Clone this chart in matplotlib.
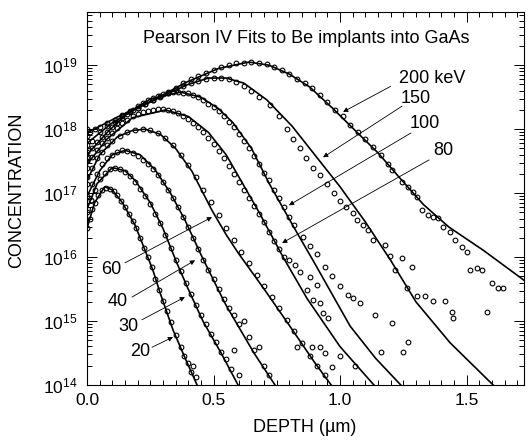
import numpy as np
import matplotlib
matplotlib.use("Agg")
import matplotlib.pyplot as plt
from matplotlib.ticker import LogLocator, MultipleLocator, LogFormatterMathtext, NullFormatter

plt.rcParams["font.family"] = ["Liberation Sans", "DejaVu Sans"]
plt.rcParams["mathtext.fontset"] = "custom"
plt.rcParams["mathtext.rm"] = "Liberation Sans"

# (depth um, log10 concentration)
fit200 = [(0.0, 17.94), (0.12, 18.19), (0.26, 18.45), (0.39, 18.73), (0.52, 18.95), (0.64, 19.05),
          (0.72, 19.0), (0.80, 18.86), (0.88, 18.66), (0.97, 18.33), (1.07, 17.94), (1.15, 17.63),
          (1.24, 17.22), (1.33, 16.82), (1.43, 16.47), (1.565, 16.11), (1.74, 15.6)]
fit150 = [(0.0, 17.78), (0.1, 18.1), (0.2, 18.33), (0.3, 18.52), (0.4, 18.7), (0.48, 18.8), (0.55, 18.8),
          (0.62, 18.72), (0.71, 18.46), (0.81, 18.05), (0.91, 17.55), (1.0, 17.1), (1.1, 16.55),
          (1.2, 15.95), (1.3, 15.3), (1.435, 14.66), (1.52, 14.33), (1.605, 14.0)]
fit100 = [(0.0, 17.6), (0.08, 17.95), (0.16, 18.25), (0.25, 18.47), (0.37, 18.58), (0.45, 18.5),
          (0.52, 18.32), (0.577, 18.1), (0.65, 17.7), (0.72, 17.15), (0.83, 16.38), (0.893, 15.95),
          (1.0, 15.2), (1.04, 14.92), (1.14, 14.42), (1.24, 14.0)]
fit80 = [(0.0, 17.45), (0.08, 17.85), (0.18, 18.18), (0.31, 18.3), (0.40, 18.2), (0.48, 17.95),
         (0.55, 17.6), (0.605, 17.22), (0.68, 16.7), (0.775, 16.0), (0.87, 15.35), (1.0, 14.6), (1.134, 14.0)]
fit60 = [(0.0, 17.2), (0.05, 17.6), (0.12, 17.88), (0.18, 17.98), (0.23, 18.0), (0.29, 17.92), (0.35, 17.7),
         (0.415, 17.34), (0.455, 17.03), (0.494, 16.73), (0.55, 16.35), (0.60, 16.05), (0.70, 15.5),
         (0.80, 14.93), (0.90, 14.35), (0.965, 14.0)]
fit40 = [(0.0, 16.95), (0.05, 17.35), (0.10, 17.6), (0.15, 17.67), (0.21, 17.6), (0.27, 17.36), (0.33, 17.0),
         (0.387, 16.58), (0.455, 16.0), (0.545, 15.28), (0.577, 15.06), (0.66, 14.5), (0.743, 14.0)]
fit30 = [(0.0, 16.75), (0.04, 17.15), (0.10, 17.4), (0.15, 17.35), (0.19, 17.2), (0.25, 16.85), (0.30, 16.45),
         (0.356, 15.9), (0.40, 15.5), (0.458, 15.0), (0.53, 14.5), (0.597, 14.0)]
fit20 = [(0.0, 16.45), (0.03, 16.85), (0.07, 17.1), (0.10, 17.05), (0.14, 16.85), (0.19, 16.5), (0.23, 16.1),
         (0.26, 15.8), (0.289, 15.44), (0.34, 14.86), (0.39, 14.4), (0.435, 14.0)]

dat200 = [(0.0, 17.9), (0.0, 18.0), (0.01, 17.95), (0.03, 18.0), (0.05, 18.03), (0.08, 18.1), (0.11, 18.15),
          (0.14, 18.22), (0.17, 18.28), (0.20, 18.33), (0.23, 18.4), (0.26, 18.45), (0.29, 18.52), (0.32, 18.58),
          (0.35, 18.65), (0.38, 18.72), (0.41, 18.78), (0.44, 18.83), (0.47, 18.88), (0.50, 18.93), (0.53, 18.97),
          (0.56, 19.0), (0.59, 19.03), (0.62, 19.04), (0.65, 19.05), (0.68, 19.04), (0.71, 19.02), (0.74, 18.98),
          (0.77, 18.92), (0.80, 18.86), (0.83, 18.79), (0.86, 18.72), (0.89, 18.64), (0.92, 18.54), (0.95, 18.42),
          (0.98, 18.3), (1.01, 18.2), (1.04, 18.07), (1.07, 17.95), (1.10, 17.84), (1.13, 17.72), (1.16, 17.6),
          (1.19, 17.45), (1.206, 17.36), (1.245, 17.17), (1.269, 17.09), (1.289, 17.02), (1.304, 16.94),
          (1.324, 16.73), (1.348, 16.66), (1.368, 16.63), (1.387, 16.61), (1.407, 16.47), (1.435, 16.39),
          (1.455, 16.27), (1.482, 16.16), (1.502, 16.08), (1.514, 15.80), (1.542, 15.83), (1.561, 15.80),
          (1.581, 15.14), (1.601, 15.59), (1.625, 15.52), (1.644, 15.52)]
dat150 = [(0.0, 17.75), (0.02, 17.82), (0.05, 17.95), (0.08, 18.05), (0.11, 18.12), (0.14, 18.2), (0.17, 18.27),
          (0.20, 18.33), (0.23, 18.39), (0.26, 18.45), (0.29, 18.51), (0.32, 18.56), (0.35, 18.62), (0.38, 18.67),
          (0.41, 18.72), (0.44, 18.76), (0.47, 18.79), (0.50, 18.8), (0.53, 18.8), (0.56, 18.78), (0.59, 18.74),
          (0.62, 18.68), (0.65, 18.6), (0.68, 18.5), (0.723, 18.38), (0.76, 18.2), (0.79, 18.0), (0.815, 17.85),
          (0.842, 17.7), (0.867, 17.55), (0.893, 17.4), (0.92, 17.28), (0.949, 17.15), (0.975, 17.0),
          (1.0, 16.88), (1.025, 16.78), (1.051, 16.69), (1.067, 16.58), (1.091, 16.5), (1.11, 16.42),
          (1.13, 16.27), (1.178, 16.19), (1.198, 16.02), (1.217, 15.8), (1.245, 15.98), (1.265, 15.52),
          (1.285, 15.84), (1.304, 15.39), (1.336, 15.39), (1.368, 15.31), (1.415, 15.31), (1.443, 15.14),
          (1.447, 15.05)]
dat100 = [(0.0, 17.55), (0.0, 17.65), (0.02, 17.7), (0.04, 17.8), (0.06, 17.88), (0.08, 17.95), (0.10, 18.03),
          (0.12, 18.1), (0.14, 18.17), (0.16, 18.24), (0.18, 18.3), (0.20, 18.36), (0.22, 18.41), (0.24, 18.45),
          (0.26, 18.49), (0.28, 18.52), (0.30, 18.55), (0.32, 18.57), (0.34, 18.58), (0.36, 18.58), (0.38, 18.57),
          (0.40, 18.56), (0.42, 18.53), (0.44, 18.5), (0.46, 18.45), (0.48, 18.4), (0.50, 18.35), (0.52, 18.28),
          (0.54, 18.2), (0.56, 18.12), (0.58, 18.03), (0.60, 17.93), (0.62, 17.82), (0.64, 17.7), (0.66, 17.58),
          (0.68, 17.45), (0.70, 17.32), (0.72, 17.2), (0.74, 17.05), (0.76, 16.92), (0.78, 16.78), (0.80, 16.62),
          (0.82, 16.5), (0.854, 16.31), (0.88, 16.18), (0.91, 16.05), (0.94, 15.85), (0.97, 15.7), (1.0, 15.55),
          (1.03, 15.4), (1.05, 15.36), (1.08, 15.28), (1.14, 15.09), (1.205, 14.97), (1.16, 14.52),
          (1.27, 14.67), (1.25, 14.52)]
dat80 = [(0.0, 17.4), (0.0, 17.5), (0.02, 17.57), (0.04, 17.68), (0.06, 17.78), (0.08, 17.86), (0.10, 17.94),
         (0.12, 18.02), (0.14, 18.09), (0.16, 18.15), (0.18, 18.2), (0.20, 18.24), (0.22, 18.27), (0.24, 18.29),
         (0.26, 18.3), (0.28, 18.31), (0.30, 18.31), (0.32, 18.3), (0.34, 18.28), (0.36, 18.25), (0.38, 18.21),
         (0.40, 18.16), (0.42, 18.1), (0.44, 18.03), (0.46, 17.95), (0.48, 17.86), (0.50, 17.77), (0.52, 17.66),
         (0.54, 17.55), (0.56, 17.43), (0.58, 17.3), (0.60, 17.18), (0.62, 17.05), (0.64, 16.92), (0.66, 16.8),
         (0.68, 16.68), (0.70, 16.55), (0.72, 16.4), (0.74, 16.25), (0.76, 16.12), (0.78, 16.0), (0.80, 15.95),
         (0.822, 15.875), (0.842, 15.77), (0.881, 15.69), (0.909, 15.56), (0.87, 15.48), (0.893, 15.33),
         (0.921, 15.28), (0.933, 15.125), (0.953, 15.05), (0.89, 14.6), (0.92, 14.6), (0.94, 14.5),
         (0.97, 14.28), (1.0, 14.45), (1.06, 14.3)]
dat60 = [(0.0, 17.15), (0.0, 17.25), (0.02, 17.4), (0.04, 17.55), (0.06, 17.65), (0.08, 17.75), (0.10, 17.82),
         (0.13, 17.9), (0.16, 17.96), (0.19, 17.99), (0.22, 18.0), (0.25, 17.98), (0.28, 17.94), (0.31, 17.87),
         (0.34, 17.76), (0.37, 17.6), (0.40, 17.44), (0.43, 17.25), (0.46, 17.05), (0.49, 16.86), (0.52, 16.66),
         (0.55, 16.46), (0.58, 16.27), (0.61, 16.08), (0.64, 15.9), (0.67, 15.72), (0.70, 15.55), (0.73, 15.38),
         (0.76, 15.2), (0.79, 15.02), (0.82, 14.85), (0.85, 14.65), (0.83, 14.6), (0.88, 14.45), (0.91, 14.3),
         (0.94, 14.15)]
dat40 = [(0.0, 16.95), (0.02, 17.15), (0.04, 17.3), (0.06, 17.45), (0.08, 17.55), (0.10, 17.6), (0.12, 17.65),
         (0.14, 17.67), (0.16, 17.66), (0.18, 17.63), (0.20, 17.58), (0.22, 17.52), (0.24, 17.45), (0.26, 17.38),
         (0.28, 17.28), (0.30, 17.18), (0.32, 17.05), (0.34, 16.92), (0.36, 16.78), (0.38, 16.63), (0.40, 16.47),
         (0.42, 16.3), (0.44, 16.12), (0.46, 15.95), (0.48, 15.8), (0.50, 15.65), (0.52, 15.5), (0.54, 15.35),
         (0.56, 15.2), (0.58, 15.1), (0.60, 14.95), (0.62, 15.0), (0.64, 14.75), (0.66, 14.55), (0.68, 14.6),
         (0.70, 14.3), (0.72, 14.15)]
dat30 = [(0.0, 16.7), (0.015, 16.9), (0.03, 17.05), (0.05, 17.22), (0.07, 17.32), (0.09, 17.38), (0.11, 17.4),
         (0.13, 17.38), (0.15, 17.33), (0.17, 17.27), (0.19, 17.18), (0.21, 17.07), (0.23, 16.95), (0.25, 16.83),
         (0.27, 16.68), (0.29, 16.53), (0.31, 16.35), (0.33, 16.15), (0.35, 15.95), (0.37, 15.78), (0.39, 15.6),
         (0.41, 15.42), (0.43, 15.25), (0.45, 15.1), (0.47, 14.95), (0.49, 14.8), (0.51, 14.68), (0.53, 14.52),
         (0.55, 14.4), (0.57, 14.25), (0.58, 14.55), (0.60, 14.15)]
dat20 = [(0.0, 16.45), (0.01, 16.6), (0.02, 16.75), (0.03, 16.85), (0.045, 16.97), (0.06, 17.05), (0.075, 17.08),
         (0.09, 17.07), (0.105, 17.03), (0.12, 16.97), (0.135, 16.88), (0.15, 16.78), (0.165, 16.67),
         (0.18, 16.57), (0.195, 16.45), (0.21, 16.3), (0.225, 16.15), (0.24, 16.0), (0.255, 15.85), (0.27, 15.65),
         (0.285, 15.48), (0.30, 15.32), (0.315, 15.15), (0.33, 14.98), (0.35, 14.78), (0.37, 14.6),
         (0.385, 14.45), (0.40, 14.35), (0.41, 14.2), (0.42, 14.3), (0.43, 14.12)]

# label text, label position, arrow tail, arrow head (depth, log10 conc)
energy_labels = ["200 keV", "150", "100", "80", "60", "40", "30", "20"]
label_pos = [(1.364, 18.80), (1.30, 18.48), (1.336, 18.09), (1.407, 17.67),
             (0.095, 15.80), (0.1225, 15.31), (0.162, 14.91), (0.209, 14.53)]
arrow_tail = [(1.20, 18.67), (1.245, 18.36), (1.28, 17.94), (1.352, 17.52),
              (0.150, 15.91), (0.178, 15.375), (0.217, 15.02), (0.257, 14.59)]
arrow_head = [(1.012, 18.27), (0.933, 17.56), (0.798, 16.81), (0.771, 16.22),
              (0.494, 16.625), (0.427, 15.95), (0.387, 15.375), (0.34, 14.75)]

fig = plt.figure(figsize=(5.28, 4.40), dpi=100)
ax = fig.add_axes([87 / 528, 55 / 440, 437 / 528, 373 / 440])

for fit, dat in [(fit200, dat200), (fit150, dat150), (fit100, dat100), (fit80, dat80),
                 (fit60, dat60), (fit40, dat40), (fit30, dat30), (fit20, dat20)]:
    fx, fy = zip(*fit)
    ax.plot(fx, 10 ** np.array(fy), color="black", lw=1.2)
    dx, dy = zip(*dat)
    ax.plot(dx, 10 ** np.array(dy), "o", mfc="none", mec="black", ms=3.4, mew=0.8)

for txt, lp, tail, head in zip(energy_labels, label_pos, arrow_tail, arrow_head):
    ax.text(lp[0], 10 ** lp[1], txt, fontsize=13, ha="center", va="center")
    ax.annotate("", xy=(head[0], 10 ** head[1]), xytext=(tail[0], 10 ** tail[1]),
                arrowprops=dict(arrowstyle="-|>", lw=0.6, color="black", mutation_scale=7,
                                shrinkA=0, shrinkB=0))

ax.set_yscale("log")
ax.set_xlim(0, 1.727)
ax.set_ylim(1e14, 6.8e19)

ax.xaxis.set_major_locator(MultipleLocator(0.5))
ax.xaxis.set_minor_locator(MultipleLocator(0.05))
ax.xaxis.set_major_formatter(plt.FuncFormatter(lambda v, p: f"{v:.1f}"))
ax.yaxis.set_major_locator(LogLocator(base=10, numticks=10))
ax.yaxis.set_minor_locator(LogLocator(base=10, subs=np.arange(2, 10), numticks=20))
ax.yaxis.set_major_formatter(LogFormatterMathtext())
ax.yaxis.set_minor_formatter(NullFormatter())

ax.tick_params(which="both", direction="in", top=True, right=True, width=0.7)
ax.tick_params(which="major", length=7, labelsize=12.5)
ax.tick_params(axis="x", which="major", pad=6)
ax.tick_params(axis="y", which="major", pad=7)
ax.tick_params(which="minor", length=3.5)
for s in ax.spines.values():
    s.set_linewidth(0.8)

fig.text(306 / 528, 1 - 38 / 440, "Pearson IV Fits to Be implants into GaAs",
         fontsize=13, ha="center", va="center")
fig.text(17 / 528, 1 - 190 / 440, "CONCENTRATION", fontsize=13, rotation=90,
         ha="center", va="center")
fig.text(305 / 528, 1 - 427 / 440, "DEPTH (\u00b5m)", fontsize=13, ha="center", va="center")

fig.savefig("out.png", dpi=100)
